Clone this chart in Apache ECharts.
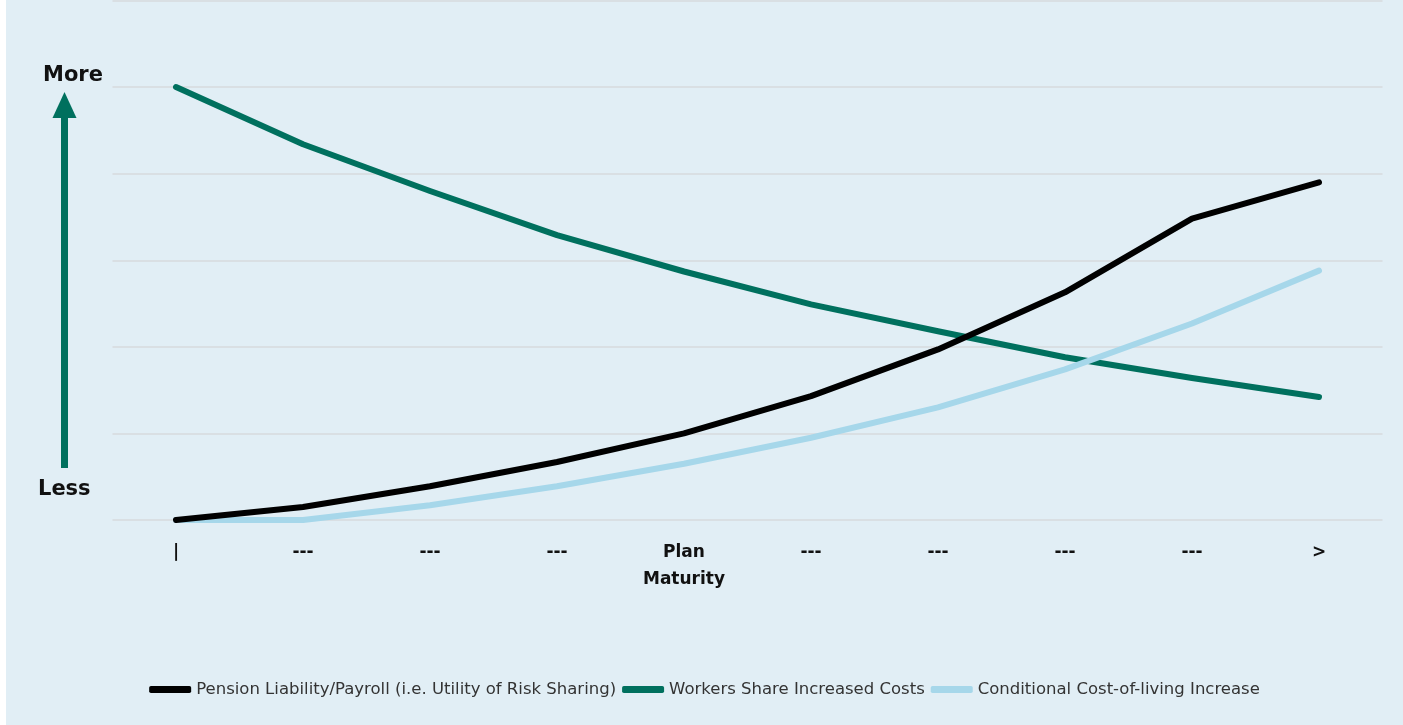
<!DOCTYPE html>
<html>
<head>
<meta charset="utf-8">
<script src="https://cdn.jsdelivr.net/npm/echarts@6/dist/echarts.min.js"></script>
<style>
html,body{margin:0;padding:0;background:#ffffff;}
#chart{position:absolute;left:6px;top:0;width:1397px;height:725px;background:#e1eef5;}
</style>
</head>
<body>
<div id="chart"></div>
<script>
var categories = ['|', '---', '---', '---', 'Plan\nMaturity', '---', '---', '---', '---', '>'];
var pensionLiability = [0, 0.15, 0.39, 0.67, 1.0, 1.43, 1.97, 2.63, 3.48, 3.90];
var workersShare = [5.0, 4.34, 3.80, 3.29, 2.87, 2.49, 2.18, 1.88, 1.64, 1.42];
var conditionalCOLA = [0, 0, 0.17, 0.39, 0.65, 0.95, 1.30, 1.74, 2.27, 2.88];
var seriesNames = ['Pension Liability/Payroll (i.e. Utility of Risk Sharing)', 'Workers Share Increased Costs', 'Conditional Cost-of-living Increase'];
var colors = ['#000000', '#00705e', '#a6d7ea'];

var chart = echarts.init(document.getElementById('chart'));
var font = 'DejaVu Sans';
function mkSeries(i, data, z) {
  return {
    name: seriesNames[i], type: 'line', data: data, symbol: 'none', z: z,
    lineStyle: {color: colors[i], width: 6, cap: 'round', join: 'round'},
    itemStyle: {color: colors[i]}
  };
}
chart.setOption({
  backgroundColor: '#e1eef5',
  animation: false,
  grid: {left: 106.5, right: 20.5, top: 0.5, bottom: 205, containLabel: false},
  xAxis: {
    type: 'category', data: categories, boundaryGap: true,
    axisLine: {show: false}, axisTick: {show: false},
    axisLabel: {color: '#111', fontFamily: font, fontWeight: 'bold', fontSize: 17, lineHeight: 27, margin: 19, interval: 0}
  },
  yAxis: {
    type: 'value', min: 0, max: 6, interval: 1,
    axisLine: {show: false}, axisTick: {show: false}, axisLabel: {show: false},
    splitLine: {lineStyle: {color: '#d6dadd', width: 1.5}}
  },
  legend: {
    bottom: 22, left: 'center', itemWidth: 42, itemHeight: 7, itemGap: 6,
    icon: 'roundRect',
    data: seriesNames,
    textStyle: {fontFamily: font, fontSize: 16.5, color: '#333'}
  },
  graphic: [
    {type: 'text', left: 37, top: 65, style: {text: 'More', font: 'bold 21px "DejaVu Sans"', fill: '#111'}},
    {type: 'text', left: 32, top: 479, style: {text: 'Less', font: 'bold 21px "DejaVu Sans"', fill: '#111'}},
    {type: 'rect', shape: {x: 55, y: 112, width: 7, height: 356}, style: {fill: '#00705e'}},
    {type: 'polygon', shape: {points: [[58.5, 92], [46.5, 118], [70.5, 118]]}, style: {fill: '#00705e'}}
  ],
  series: [
    mkSeries(1, workersShare, 2),
    mkSeries(2, conditionalCOLA, 3),
    mkSeries(0, pensionLiability, 4)
  ]
});
</script>
</body>
</html>
